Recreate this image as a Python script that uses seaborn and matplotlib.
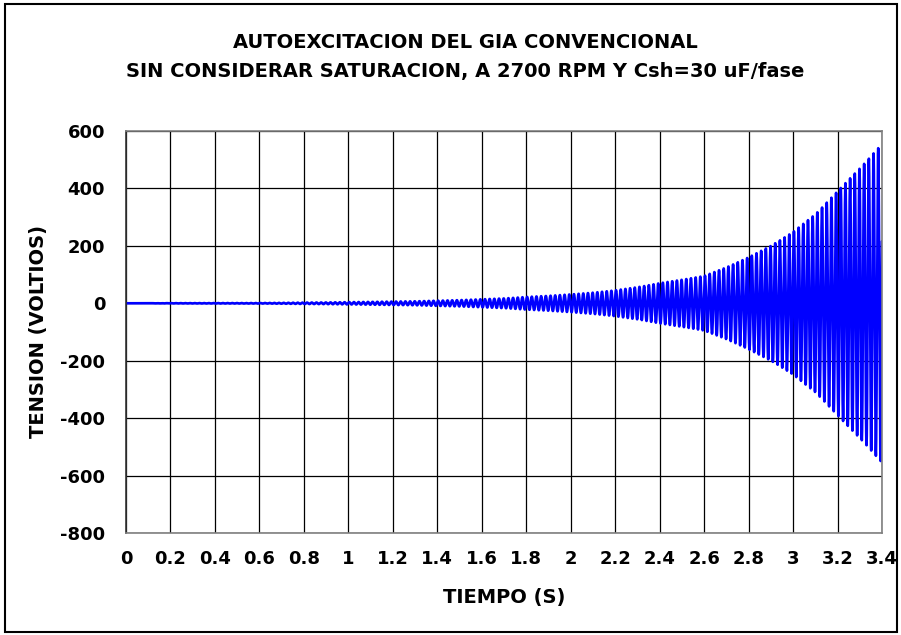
import numpy as np
import pandas as pd
import seaborn as sns
import matplotlib.pyplot as plt
from matplotlib.patches import Rectangle

# envelope of the oscillation (peak volts at each time)
env_time = [0.0, 0.2, 0.4, 0.6, 0.7, 0.8, 0.9, 1.0, 1.1, 1.2, 1.3, 1.4, 1.5, 1.6, 1.7,
            1.8, 1.9, 2.0, 2.1, 2.2, 2.3, 2.4, 2.5, 2.6, 2.7, 2.8, 2.9, 3.0, 3.1, 3.2,
            3.3, 3.4]
env_peak = [0, 0.5, 0.8, 1, 1.5, 2.5, 3, 4, 5, 6, 7, 9, 11, 14, 17,
            22, 26, 31, 37, 45, 56, 70, 82, 95, 125, 160, 200, 248, 310, 390,
            470, 555]
freq_hz = 47.5  # roughly 10 peaks per 0.2 s

x_ticks = [0, 0.2, 0.4, 0.6, 0.8, 1, 1.2, 1.4, 1.6, 1.8, 2, 2.2, 2.4, 2.6, 2.8, 3, 3.2, 3.4]
x_labels = ["0", "0.2", "0.4", "0.6", "0.8", "1", "1.2", "1.4", "1.6", "1.8", "2",
            "2.2", "2.4", "2.6", "2.8", "3", "3.2", "3.4"]
y_ticks = [-800, -600, -400, -200, 0, 200, 400, 600]

title = "AUTOEXCITACION DEL GIA CONVENCIONAL\nSIN CONSIDERAR SATURACION, A 2700 RPM Y Csh=30 uF/fase"

# build the sampled waveform
t = np.arange(0, 3.4 + 1e-9, 0.0005)
amp = np.interp(t, env_time, env_peak)
v = -amp * np.sin(2 * np.pi * freq_hz * t + 0.4)
df = pd.DataFrame({"tiempo": t, "tension": v})

sns.set_style("white")
plt.rcParams['font.family'] = ['DejaVu Sans']
plt.rcParams['text.color'] = 'black'
plt.rcParams['axes.labelcolor'] = 'black'
plt.rcParams['xtick.color'] = 'black'
plt.rcParams['ytick.color'] = 'black'

fig = plt.figure(figsize=(9.01, 6.35), dpi=100)
ax = fig.add_axes([126 / 901, 1 - 533 / 635, (882 - 126) / 901, (533 - 131) / 635])

sns.lineplot(data=df, x="tiempo", y="tension", ax=ax, color="#0000FF",
             linewidth=1.9, estimator=None, sort=False)

ax.set_xlim(0, 3.4)
ax.set_ylim(-800, 600)
ax.set_xticks(x_ticks)
ax.set_xticklabels(x_labels, fontsize=13, fontweight="bold")
ax.set_yticks(y_ticks)
ax.set_yticklabels([str(y) for y in y_ticks], fontsize=13, fontweight="bold")
ax.tick_params(axis="x", length=0, pad=12)
ax.tick_params(axis="y", length=6, width=1, color="#333333", pad=9, direction="out")
ax.grid(True, color="#000000", linewidth=0.9)
ax.set_axisbelow(True)

for side in ["top", "right", "bottom"]:
    ax.spines[side].set_color("#808080")
    ax.spines[side].set_linewidth(1.2)
ax.spines["left"].set_color("#333333")
ax.spines["left"].set_linewidth(1.2)

ax.set_xlabel("TIEMPO (S)", fontsize=14, fontweight="bold", labelpad=15)
ax.set_ylabel("TENSION (VOLTIOS)", fontsize=14, fontweight="bold", labelpad=9)

fig.text(465 / 901, 1 - 57 / 635, title, ha="center", va="center",
         fontsize=14, fontweight="bold", linespacing=1.6)

# outer chart border
fig.patches.append(Rectangle((5 / 901, 3 / 635), 892 / 901, 628 / 635,
                             transform=fig.transFigure, fill=False,
                             edgecolor="black", linewidth=1.5))

fig.savefig("out.png", dpi=100)
